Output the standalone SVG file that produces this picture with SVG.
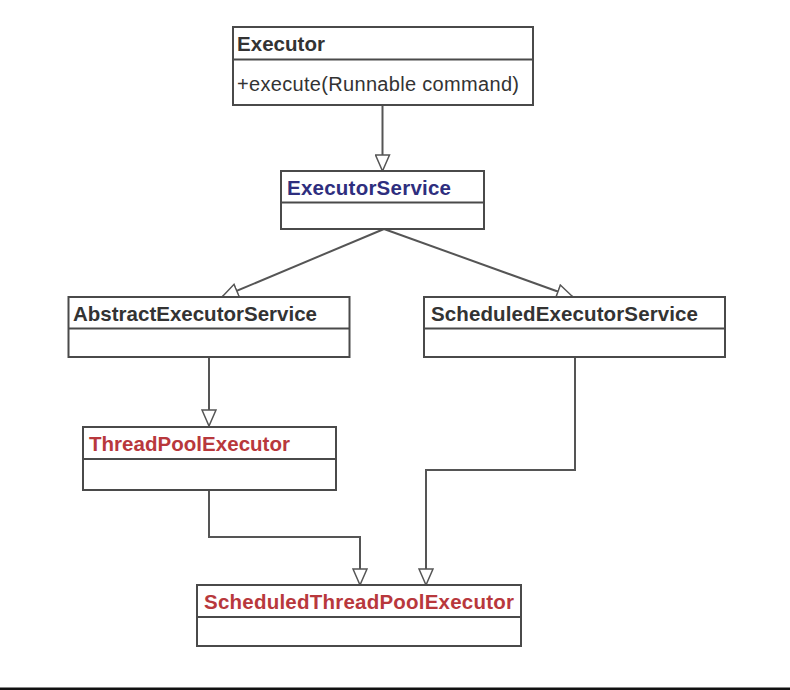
<svg xmlns="http://www.w3.org/2000/svg" width="790" height="690" viewBox="0 0 790 690">
<style>
.box{fill:#fff;stroke:#4a4a4a;stroke-width:2}
.div{stroke:#4a4a4a;stroke-width:2}
.t{font-family:"Liberation Sans",Arial,sans-serif;font-size:20.5px;font-weight:bold;fill:#333}
.m{font-family:"Liberation Sans",Arial,sans-serif;font-size:20px;fill:#333}
.blue{fill:#2e2e7e}
.red{fill:#b8383c}
.c{fill:none;stroke:#555;stroke-width:2}
</style>
<defs>
<marker id="tri" viewBox="0 0 18 16" refX="17" refY="8" markerWidth="18" markerHeight="16" markerUnits="userSpaceOnUse" orient="auto">
<path d="M1,1 L17,8 L1,15 Z" fill="#fff" stroke="#555" stroke-width="1.5"/>
</marker>
</defs>
<rect width="790" height="690" fill="#fff"/>
<g id="connectors">
<path class="c" d="M382.5,105 V171" marker-end="url(#tri)"/>
<path class="c" d="M384,229 L222,297" marker-end="url(#tri)"/>
<path class="c" d="M384,229 L573,297" marker-end="url(#tri)"/>
<path class="c" d="M209,357 V426" marker-end="url(#tri)"/>
<path class="c" d="M209,490 V537 H360 V585" marker-end="url(#tri)"/>
<path class="c" d="M575,357 V470 H426 V585" marker-end="url(#tri)"/>
</g>
<g id="executor">
<rect class="box" x="233" y="27" width="300" height="78"/>
<line class="div" x1="233" y1="59.5" x2="533" y2="59.5"/>
<text class="t" x="237" y="51" textLength="88">Executor</text>
<text class="m" x="237" y="91" textLength="282">+execute(Runnable command)</text>
</g>
<g id="executorService">
<rect class="box" x="281" y="171" width="203" height="58"/>
<line class="div" x1="281" y1="202.5" x2="484" y2="202.5"/>
<text class="t blue" x="287" y="194.5" textLength="164">ExecutorService</text>
</g>
<g id="abstractExecutorService">
<rect class="box" x="68.5" y="297" width="281" height="60"/>
<line class="div" x1="68.5" y1="328.5" x2="349.5" y2="328.5"/>
<text class="t" x="73" y="320.5" textLength="244">AbstractExecutorService</text>
</g>
<g id="scheduledExecutorService">
<rect class="box" x="424" y="297" width="301" height="60"/>
<line class="div" x1="424" y1="328.5" x2="725" y2="328.5"/>
<text class="t" x="431" y="321" textLength="267">ScheduledExecutorService</text>
</g>
<g id="threadPoolExecutor">
<rect class="box" x="83" y="427" width="253" height="63"/>
<line class="div" x1="83" y1="459" x2="336" y2="459"/>
<text class="t red" x="89" y="451" textLength="201">ThreadPoolExecutor</text>
</g>
<g id="scheduledThreadPoolExecutor">
<rect class="box" x="197" y="585" width="324" height="61"/>
<line class="div" x1="197" y1="617" x2="521" y2="617"/>
<text class="t red" x="204" y="608.5" textLength="310">ScheduledThreadPoolExecutor</text>
</g>
<rect x="0" y="687.5" width="790" height="2.5" fill="#111"/>
</svg>
